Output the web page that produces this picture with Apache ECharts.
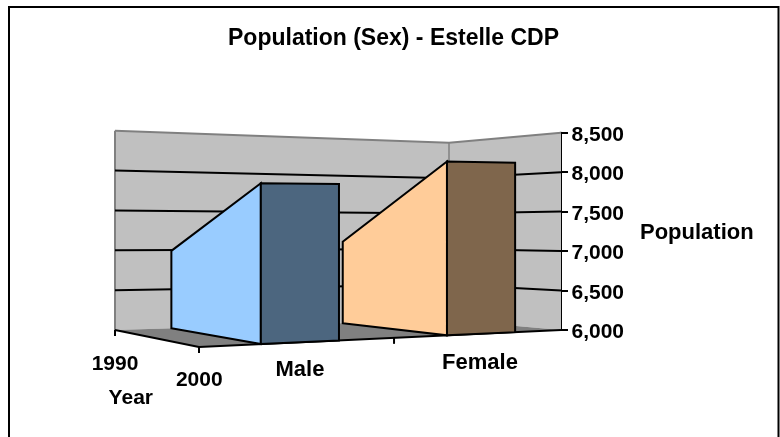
<!DOCTYPE html>
<html><head><meta charset="utf-8">
<style>html,body{margin:0;padding:0;background:#fff}#c{width:780px;height:437px}</style>
<script src="https://cdn.jsdelivr.net/npm/echarts@6/dist/echarts.min.js"></script>
</head><body><div id="c"></div>
<script>
const titleText = 'Population (Sex) - Estelle CDP';
const years = ['1990', '2000'];
const seriesNames = ['Male', 'Female'];
const maleValues = [6990, 7825];
const femaleValues = [7106, 8110];
const valueTicks = [6000, 6500, 7000, 7500, 8000, 8500];
const yearAxisName = 'Year';
const valueAxisName = 'Population';

// Projected box of the 3D chart: corners on the floor and heights, u along series, t along years
const box = {
  A: [115, 330, 199.3], B: [449, 320, 177.3], C: [561, 330, 197.3], D: [199, 347, 225]
};
function project(u, t, z) {
  const ws = [[box.A,(1-u)*(1-t)],[box.B,u*(1-t)],[box.C,u*t],[box.D,(1-u)*t]];
  let w=0,x=0,y=0;
  ws.forEach(([p,k])=>{const pw=1/p[2]; w+=k*pw; x+=k*pw*p[0]; y+=k*pw*p[1];});
  const H = 1/w;
  return [x/w, y/w - z*H];
}
const bands = [[0.153,0.356],[0.656,0.858]];
const BLACK='#000', W=2;
function poly(points, fill, stroke, lw){
  return {type:'polygon',shape:{points},style:{fill:fill||'none',stroke:stroke||'none',lineWidth:lw||0,lineJoin:'miter'}};
}
function line(a,b,stroke,lw){
  return {type:'line',shape:{x1:a[0],y1:a[1],x2:b[0],y2:b[1]},style:{stroke,lineWidth:lw}};
}
function zOf(api, v){
  const y0=api.coord([0,valueTicks[0]])[1], y1=api.coord([0,valueTicks[valueTicks.length-1]])[1];
  return (y0-api.coord([0,v])[1])/(y0-y1);
}
function renderBox(params, api){
  const ch=[];
  const p=project;
  ch.push(poly([p(0,0,0),p(1,0,0),p(1,0,1),p(0,0,1)],'#C0C0C0'));
  ch.push(poly([p(1,0,0),p(1,1,0),p(1,1,1),p(1,0,1)],'#C0C0C0'));
  ch.push(poly([p(0,0,0),p(1,0,0),p(1,1,0),p(0,1,0)],'#808080'));
  ch.push(line(p(0,0,1),p(1,0,1),'#808080',2));
  ch.push(line(p(1,0,1),p(1,1,1),'#808080',2));
  ch.push(line(p(0,0,0),p(0,0,1),'#808080',2));
  ch.push(line(p(1,0,0),p(1,0,1),'#808080',1.5));
  valueTicks.slice(1,-1).forEach(v=>{
    const z=zOf(api,v);
    ch.push(line(p(0,0,z),p(1,0,z),BLACK,W));
    ch.push(line(p(1,0,z),p(1,1,z),BLACK,W));
  });
  ch.push(line(p(0,0,0),p(0,1,0),BLACK,W));
  ch.push(line(p(0,1,0),p(1,1,0),BLACK,W));
  [[0,0],[0,1],[0.506,1]].forEach(([u,t])=>{
    const a=p(u,t,0); ch.push(line(a,[a[0],a[1]+6],BLACK,W));
  });
  return {type:'group',children:ch};
}
const sideColors=['#99CCFF','#FFCC99'], frontColors=['#4C667F','#7F664C'];
function renderArea(idx, vals){
  return function(params, api){
    if(params.dataIndex!==0) return null;
    const [uL,uR]=bands[idx];
    const z0=zOf(api,vals[0]), z1=zOf(api,vals[1]);
    const p=project;
    return {type:'group',children:[
      poly([p(uL,0,0),p(uL,1,0),p(uL,1,z1),p(uL,0,z0)],sideColors[idx],BLACK,W),
      poly([p(uL,1,0),p(uR,1,0),p(uR,1,z1),p(uL,1,z1)],frontColors[idx],BLACK,W)
    ]};
  };
}
const fontFamily='"Liberation Sans",Arial,sans-serif';
function label(text,x,y,size){
  return {type:'text',x,y,silent:true,style:{text,textAlign:'center',textVerticalAlign:'middle',fontFamily,fontWeight:'bold',fontSize:size,fill:'#000'}};
}
const chart=echarts.init(document.getElementById('c'),null,{renderer:'canvas'});
chart.setOption({
  animation:false,
  backgroundColor:'#fff',
  title:{text:titleText,left:223,top:22,textStyle:{fontFamily,fontWeight:'bold',fontSize:23,color:'#000'}},
  grid:{left:115,right:219,top:132.7,bottom:107,containLabel:false},
  xAxis:{type:'category',data:years,show:false},
  yAxis:{type:'value',position:'right',min:valueTicks[0],max:valueTicks[valueTicks.length-1],interval:500,
    name:valueAxisName,nameLocation:'middle',nameRotate:0,nameGap:79,
    nameTextStyle:{fontFamily,fontWeight:'bold',fontSize:22,color:'#000',align:'left',verticalAlign:'top',padding:[-9,0,0,0]},
    axisLine:{show:true,lineStyle:{color:'#000',width:2}},
    axisTick:{show:true,length:7,lineStyle:{color:'#000',width:2}},
    axisLabel:{margin:10.5,verticalAlign:'top',padding:[-8,0,0,0],fontFamily,fontWeight:'bold',fontSize:21,color:'#000',
      formatter:v=>v.toLocaleString('en-US')},
    splitLine:{show:false}},
  series:[
    {type:'custom',name:'box',data:[[0,valueTicks[0]]],renderItem:renderBox,silent:true,z:1},
    {type:'custom',name:seriesNames[0],data:maleValues.map((v,i)=>[i,v]),renderItem:renderArea(0,maleValues),silent:true,z:2},
    {type:'custom',name:seriesNames[1],data:femaleValues.map((v,i)=>[i,v]),renderItem:renderArea(1,femaleValues),silent:true,z:3}
  ],
  graphic:{elements:[
    {type:'rect',shape:{x:9,y:7,width:769.5,height:440},style:{fill:'none',stroke:'#000',lineWidth:2},silent:true,z:-1},
    label(years[0],115,364,21),label(years[1],199.3,380,21),label(yearAxisName,130.8,398,21),
    label(seriesNames[0],300,370,22),label(seriesNames[1],480,362.5,22)
  ]}
});
</script></body></html>
